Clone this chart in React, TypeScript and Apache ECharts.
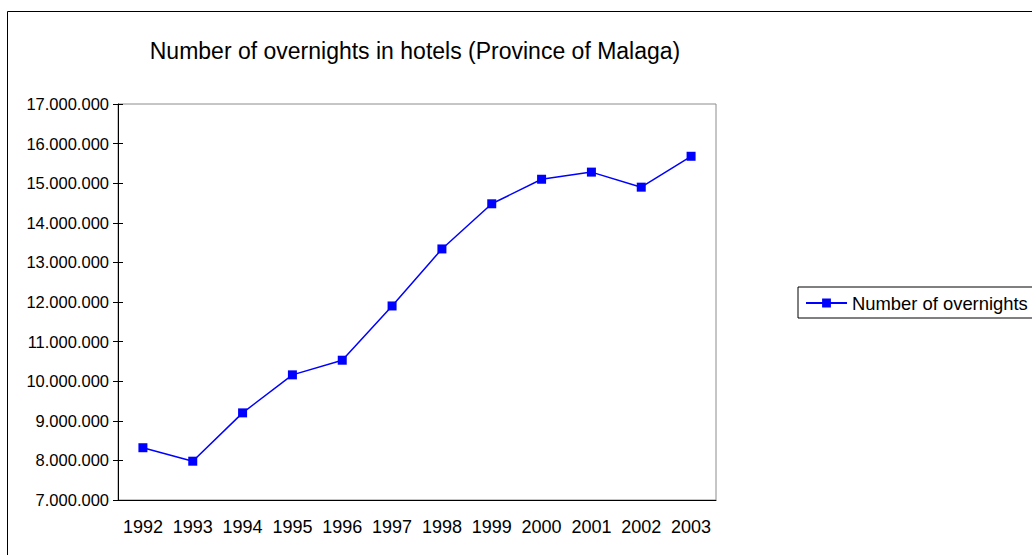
import React, { useEffect, useRef } from "react";
import * as echarts from "echarts";

const years = ["1992", "1993", "1994", "1995", "1996", "1997", "1998", "1999", "2000", "2001", "2002", "2003"];
const overnights = [8320000, 7980000, 9200000, 10160000, 10530000, 11900000, 13340000, 14480000, 15100000, 15280000, 14900000, 15680000];
const seriesName = "Number of overnights";
const chartTitle = "Number of overnights in hotels (Province of Malaga)";

const FONT = "'Liberation Sans', Arial, sans-serif";

function fmt(v: number): string {
  const s = Math.round(v).toString();
  return s.replace(/\B(?=(\d{3})+(?!\d))/g, ".");
}

export default function App() {
  const ref = useRef<HTMLDivElement>(null);
  useEffect(() => {
    if (!ref.current) return;
    const chart = echarts.init(ref.current, undefined, { renderer: "svg" });
    chart.setOption({
      animation: false,
      backgroundColor: "#ffffff",
      textStyle: { fontFamily: FONT },
      graphic: [
        {
          type: "rect",
          silent: true,
          z: -10,
          shape: { x: 7.5, y: 11.5, width: 1200, height: 700 },
          style: { fill: "none", stroke: "#000", lineWidth: 1 },
        },
        {
          type: "text",
          x: 415,
          y: 51,
          style: {
            text: chartTitle,
            fontFamily: FONT,
            fontSize: 23,
            fill: "#000",
            textAlign: "center",
            textVerticalAlign: "middle",
          },
        },
      ],
      legend: {
        left: 798,
        top: 287,
        orient: "vertical",
        borderColor: "#000",
        borderWidth: 1,
        padding: [7, 10, 6, 7],
        itemWidth: 41,
        itemHeight: 11,
        textStyle: { fontFamily: FONT, fontSize: 18.4, color: "#000", padding: [0, 0, 0, 0] },
        data: [seriesName],
      },
      grid: {
        left: 118,
        top: 104,
        right: 316,
        bottom: 55,
        show: true,
        borderColor: "#8c8c8c",
        borderWidth: 1,
        backgroundColor: "transparent",
      },
      xAxis: {
        type: "category",
        data: years,
        boundaryGap: true,
        axisLine: { lineStyle: { color: "#000", width: 1 } },
        axisTick: { inside: true, length: 7, interval: 0, lineStyle: { color: "#000" } },
        axisLabel: { color: "#000", fontSize: 18, fontFamily: FONT, margin: 18, interval: 0 },
        splitLine: { show: false },
      },
      yAxis: [
        {
          type: "value",
          min: 7000000,
          max: 17000000,
          interval: 1000000,
          axisLine: { show: true, lineStyle: { color: "#000", width: 1 } },
          axisTick: { show: true, length: 5, lineStyle: { color: "#000" } },
          axisLabel: { color: "#000", fontSize: 16.5, fontFamily: FONT, margin: 9, formatter: (v: number) => fmt(v) },
          splitLine: { show: false },
        },
        {
          type: "value",
          position: "left",
          min: 7000000,
          max: 17000000,
          interval: 1000000,
          axisLine: { show: false },
          axisTick: { show: true, inside: true, length: 5, lineStyle: { color: "#000" } },
          axisLabel: { show: false },
          splitLine: { show: false },
        },
      ],
      series: [
        {
          name: seriesName,
          type: "line",
          data: overnights,
          yAxisIndex: 0,
          symbol: "rect",
          symbolSize: 9,
          color: "#0000ff",
          lineStyle: { color: "#0000ff", width: 1.5 },
          itemStyle: { color: "#0000ff" },
        },
      ],
    });
    return () => chart.dispose();
  }, []);
  return (
    <div
      ref={ref}
      style={{ position: "absolute", left: 0, top: 0, width: 1032, height: 555 }}
    />
  );
}
